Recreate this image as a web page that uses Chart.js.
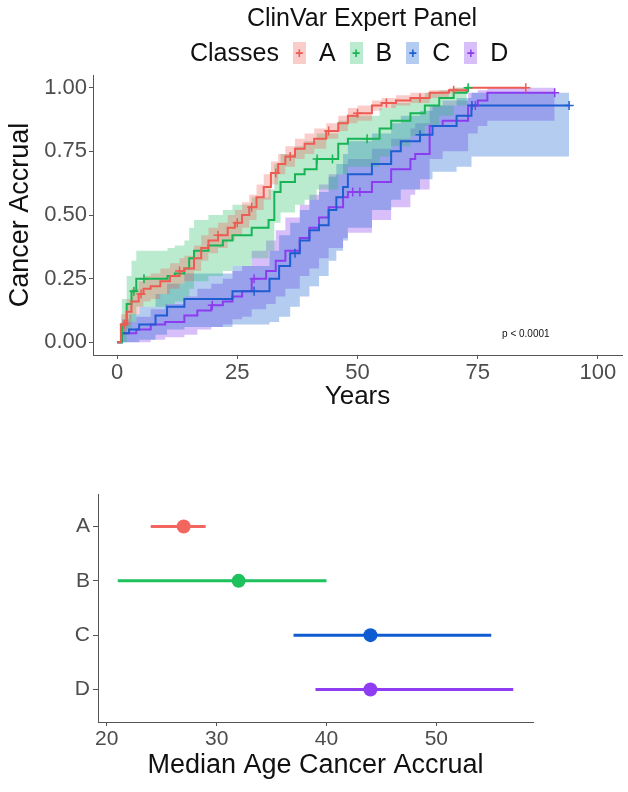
<!DOCTYPE html>
<html>
<head>
<meta charset="utf-8">
<script src="https://cdn.jsdelivr.net/npm/chart.js@4/dist/chart.umd.min.js"></script>
<style>
  body { margin: 0; background: #fff; font-family: "Liberation Sans", Arial, sans-serif; }
  #page { position: relative; width: 628px; height: 792px; overflow: hidden; }
  #title { position: absolute; top: 3px; left: 362px; transform: translateX(-50%); font-size: 25px; color: #111; white-space: nowrap; }
  #legend { position: absolute; top: 38px; left: 190px; display: flex; align-items: center; font-size: 25px; color: #111; white-space: nowrap; }
  #legend .key { width: 13px; height: 22px; display: inline-flex; align-items: center; justify-content: center; font-size: 14px; font-weight: bold; margin-left: 14px; margin-right: 13px; }
  #topWrap { position: absolute; left: 0; top: 0; width: 628px; height: 410px; }
  #bottomWrap { position: absolute; left: 0; top: 470px; width: 628px; height: 322px; }
</style>
</head>
<body>
<div id="page">
  <div id="topWrap"><canvas id="accrualChart" width="628" height="410"></canvas></div>
  <div id="title">ClinVar Expert Panel</div>
  <div id="legend"></div>
  <div id="bottomWrap"><canvas id="medianChart" width="628" height="322"></canvas></div>
</div>
<script>
// cumulative accrual curves: time in years, estimate and confidence limits
const timeA = [0, 0.8, 2, 3, 4.5, 5.5, 7, 9, 11, 13, 14, 16, 17.5, 19, 21, 23, 24.5, 26, 27.5, 29, 30.5, 32, 33.5, 35, 37, 39, 41, 43.5, 46, 48, 50, 53, 55, 58, 61, 65, 69, 73, 85];
const estA  = [0, 0.07, 0.12, 0.16, 0.19, 0.21, 0.22, 0.24, 0.26, 0.28, 0.29, 0.33, 0.37, 0.40, 0.42, 0.45, 0.47, 0.50, 0.53, 0.57, 0.61, 0.665, 0.70, 0.73, 0.76, 0.78, 0.80, 0.83, 0.86, 0.89, 0.90, 0.93, 0.94, 0.95, 0.96, 0.98, 0.99, 1.00, 1.00];
const loA   = [0, 0.03, 0.07, 0.11, 0.14, 0.16, 0.17, 0.19, 0.21, 0.23, 0.24, 0.28, 0.32, 0.35, 0.37, 0.40, 0.42, 0.45, 0.48, 0.52, 0.56, 0.62, 0.66, 0.69, 0.72, 0.74, 0.76, 0.80, 0.83, 0.86, 0.87, 0.91, 0.92, 0.93, 0.94, 0.96, 0.98, 1.00, 1.00];
const hiA   = [0, 0.11, 0.17, 0.21, 0.24, 0.26, 0.27, 0.29, 0.31, 0.33, 0.34, 0.38, 0.42, 0.45, 0.47, 0.50, 0.52, 0.55, 0.58, 0.62, 0.66, 0.71, 0.74, 0.77, 0.80, 0.82, 0.84, 0.86, 0.89, 0.92, 0.93, 0.95, 0.96, 0.97, 0.98, 0.99, 1.00, 1.00, 1.00];
const censA = [1.5, 5, 13, 21, 25, 28, 33, 36, 44, 50, 56, 63, 70, 85];

const timeB = [0, 1, 2, 3, 4, 10.5, 12, 14, 15, 16, 19, 22, 24, 28, 31.5, 32.7, 34, 37, 39, 41.5, 46, 48, 54.6, 57, 61, 64, 67, 70, 72.7, 73];
const estB  = [0, 0.07, 0.15, 0.20, 0.25, 0.26, 0.27, 0.29, 0.33, 0.36, 0.38, 0.40, 0.42, 0.45, 0.48, 0.59, 0.63, 0.66, 0.68, 0.72, 0.78, 0.80, 0.84, 0.87, 0.90, 0.93, 0.96, 0.98, 1.00, 1.00];
const loB   = [0, 0.00, 0.05, 0.08, 0.14, 0.15, 0.16, 0.18, 0.21, 0.24, 0.26, 0.28, 0.30, 0.33, 0.36, 0.47, 0.51, 0.54, 0.56, 0.60, 0.66, 0.69, 0.73, 0.77, 0.81, 0.85, 0.89, 0.93, 1.00, 1.00];
const hiB   = [0, 0.17, 0.26, 0.32, 0.36, 0.37, 0.38, 0.40, 0.45, 0.48, 0.50, 0.52, 0.54, 0.57, 0.60, 0.70, 0.74, 0.77, 0.79, 0.82, 0.87, 0.89, 0.92, 0.94, 0.96, 0.98, 0.99, 1.00, 1.00, 1.00];
const censB = [3.5, 5.6, 41.6, 44.8, 52, 73];

const timeC = [0, 1, 2.5, 4.6, 8, 10.4, 14, 24, 31.7, 33.7, 36, 38, 40, 42, 44, 45.6, 47, 48, 53, 57, 59, 63, 65.6, 70.6, 73.7, 94];
const estC  = [0, 0.035, 0.05, 0.07, 0.105, 0.14, 0.17, 0.20, 0.25, 0.30, 0.35, 0.40, 0.44, 0.46, 0.52, 0.57, 0.61, 0.66, 0.70, 0.75, 0.79, 0.815, 0.85, 0.89, 0.93, 0.93];
const loC   = [0, 0, 0, 0.01, 0.03, 0.05, 0.06, 0.07, 0.08, 0.10, 0.14, 0.18, 0.22, 0.26, 0.32, 0.36, 0.40, 0.45, 0.52, 0.56, 0.60, 0.64, 0.67, 0.69, 0.73, 0.73];
const hiC   = [0, 0.09, 0.11, 0.14, 0.19, 0.23, 0.27, 0.30, 0.36, 0.42, 0.47, 0.52, 0.56, 0.59, 0.65, 0.70, 0.74, 0.79, 0.82, 0.86, 0.89, 0.91, 0.93, 0.96, 0.98, 0.98];
const censC = [28.5, 37, 63, 73.8, 94];

const timeD = [0, 1, 4, 7, 10, 14, 16.7, 19.6, 22, 24, 26, 28, 31, 33, 35, 38, 40, 42, 44, 47, 48, 53, 57, 61, 62, 65, 67.7, 73, 75, 77, 91];
const estD  = [0, 0.035, 0.05, 0.07, 0.08, 0.105, 0.125, 0.145, 0.16, 0.18, 0.20, 0.25, 0.28, 0.32, 0.36, 0.41, 0.45, 0.49, 0.53, 0.57, 0.59, 0.63, 0.68, 0.72, 0.74, 0.85, 0.87, 0.93, 0.95, 0.98, 0.98];
const loD   = [0, 0, 0, 0.01, 0.02, 0.03, 0.05, 0.06, 0.07, 0.09, 0.10, 0.13, 0.15, 0.18, 0.21, 0.26, 0.29, 0.33, 0.37, 0.41, 0.43, 0.48, 0.53, 0.58, 0.60, 0.72, 0.75, 0.82, 0.85, 0.87, 0.87];
const hiD   = [0, 0.08, 0.10, 0.13, 0.15, 0.18, 0.21, 0.23, 0.25, 0.28, 0.30, 0.36, 0.40, 0.44, 0.49, 0.54, 0.58, 0.62, 0.66, 0.70, 0.72, 0.76, 0.80, 0.84, 0.86, 0.93, 0.95, 0.98, 0.99, 1.00, 1.00];
const censD = [19.8, 28.5, 49, 50.5, 74.5, 91];

const yearTicks = [0, 25, 50, 75, 100];
const accrualTicks = [0, 0.25, 0.5, 0.75, 1];

// median age of accrual per class with interval
const classNames = ['A', 'B', 'C', 'D'];
const medianAge = [27, 32, 44, 44];
const ageLow = [24, 21, 37, 39];
const ageHigh = [29, 40, 55, 57];
const ageTicks = [20, 30, 40, 50];

const lineColors = ['#EE5B52', '#17B455', '#1F5ED0', '#8C3CEF'];
const bandColors = ['rgba(240,90,82,0.30)', 'rgba(30,190,95,0.30)', 'rgba(25,100,210,0.33)', 'rgba(140,60,240,0.33)'];
const dotColors = ['#F2665F', '#1EC15C', '#0F5BD1', '#8F3DF2'];

const tickGray = '#4D4D4D';
const axisGray = '#555';
const fontFamily = '"Liberation Sans", Arial, sans-serif';

Chart.defaults.font.family = fontFamily;

function toPoints(t, v) {
   return t.map((x, i) => ({ x: x, y: v[i] }));
}

// value of a step curve at a given time
function stepValue(t, v, at) {
   let y = v[0];
   for (let i = 0; i < t.length; i++) {
      if (t[i] <= at) y = v[i];
   }
   return y;
}

const groups = [
   { time: timeA, est: estA, lo: loA, hi: hiA, cens: censA },
   { time: timeB, est: estB, lo: loB, hi: hiB, cens: censB },
   { time: timeC, est: estC, lo: loC, hi: hiC, cens: censC },
   { time: timeD, est: estD, lo: loD, hi: hiD, cens: censD }
];

// legend row
const legend = document.getElementById('legend');
legend.innerHTML = '<span>Classes</span>' + classNames.map((name, i) =>
   `<span class="key" style="background:${bandColors[i]};color:${lineColors[i]}">+</span><span>${name}</span>`
).join('');

const accrualSets = [];
groups.forEach((g, i) => {
   accrualSets.push({
      data: toPoints(g.time, g.lo), stepped: true, borderColor: 'rgba(0,0,0,0)', borderWidth: 0,
      pointRadius: 0, fill: false, order: 2
   });
   accrualSets.push({
      data: toPoints(g.time, g.hi), stepped: true, borderColor: 'rgba(0,0,0,0)', borderWidth: 0,
      pointRadius: 0, fill: '-1', backgroundColor: bandColors[i], order: 2
   });
   accrualSets.push({
      data: toPoints(g.time, g.est), stepped: true, borderColor: lineColors[i], borderWidth: 2,
      pointRadius: 0, fill: false, order: 1
   });
   accrualSets.push({
      data: g.cens.map(t => ({ x: t, y: stepValue(g.time, g.est, t) })), showLine: false,
      pointStyle: 'cross', pointRadius: 4.5, borderColor: lineColors[i], borderWidth: 1.5, order: 0
   });
});

const pValueLabel = {
   id: 'pValueLabel',
   afterDatasetsDraw(chart) {
      const ctx = chart.ctx;
      ctx.save();
      ctx.font = '10px ' + fontFamily;
      ctx.fillStyle = '#111';
      ctx.textAlign = 'center';
      ctx.textBaseline = 'middle';
      ctx.fillText('p < 0.0001', chart.scales.x.getPixelForValue(85), chart.scales.y.getPixelForValue(0.03));
      ctx.restore();
   }
};

new Chart(document.getElementById('accrualChart'), {
   type: 'line',
   data: { datasets: accrualSets },
   options: {
      responsive: false,
      animation: false,
      layout: { padding: { top: 75, right: 6, left: 0, bottom: 0 } },
      plugins: {
         legend: { display: false },
         tooltip: { enabled: false },
         filler: { drawTime: 'beforeDatasetsDraw' }
      },
      scales: {
         x: {
            type: 'linear', min: -5, max: 105,
            afterBuildTicks: s => { s.ticks = yearTicks.map(v => ({ value: v })); },
            afterFit: s => { s.height = 55; },
            grid: { display: true, drawOnChartArea: false, drawTicks: true, tickLength: 4, color: axisGray },
            border: { display: true, color: axisGray, width: 1 },
            ticks: { color: tickGray, font: { size: 22 }, padding: 1, maxRotation: 0 },
            title: { display: true, text: 'Years', color: '#111', font: { size: 26, lineHeight: 1 }, padding: 0 }
         },
         y: {
            type: 'linear', min: -0.05, max: 1.05,
            afterBuildTicks: s => { s.ticks = accrualTicks.map(v => ({ value: v })); },
            afterFit: s => { s.width = 93; },
            grid: { display: true, drawOnChartArea: false, drawTicks: true, tickLength: 4, color: axisGray },
            border: { display: true, color: axisGray, width: 1 },
            ticks: { color: tickGray, font: { size: 22 }, padding: 2, callback: v => v.toFixed(2) },
            title: { display: true, text: 'Cancer Accrual', color: '#111', font: { size: 27, lineHeight: 1 }, padding: { top: 7 } }
         }
      }
   },
   plugins: [pValueLabel]
});

// interval segments and median dots
const medianSets = [];
classNames.forEach((name, i) => {
   medianSets.push({
      data: [{ x: ageLow[i], y: i + 1 }, { x: ageHigh[i], y: i + 1 }], showLine: true,
      borderColor: dotColors[i], borderWidth: 3, pointRadius: 0, order: 1
   });
   medianSets.push({
      data: [{ x: medianAge[i], y: i + 1 }], showLine: false,
      pointRadius: 7, backgroundColor: dotColors[i], borderWidth: 0, order: 0
   });
});

new Chart(document.getElementById('medianChart'), {
   type: 'scatter',
   data: { datasets: medianSets },
   options: {
      responsive: false,
      animation: false,
      layout: { padding: { top: 24, right: 95, left: 0, bottom: 0 } },
      plugins: { legend: { display: false }, tooltip: { enabled: false } },
      scales: {
         x: {
            type: 'linear', min: 19.2, max: 58.8,
            afterBuildTicks: s => { s.ticks = ageTicks.map(v => ({ value: v })); },
            afterFit: s => { s.height = 70; },
            grid: { display: true, drawOnChartArea: false, drawTicks: true, tickLength: 4, color: axisGray },
            border: { display: true, color: axisGray, width: 1 },
            ticks: { color: tickGray, font: { size: 21 }, padding: 1, maxRotation: 0 },
            title: { display: true, text: 'Median Age Cancer Accrual', color: '#111', font: { size: 27, lineHeight: 1 }, padding: { bottom: 13 } }
         },
         y: {
            type: 'linear', min: 0.4, max: 4.6, reverse: true,
            afterBuildTicks: s => { s.ticks = classNames.map((c, i) => ({ value: i + 1 })); },
            afterFit: s => { s.width = 98; },
            grid: { display: true, drawOnChartArea: false, drawTicks: true, tickLength: 5, color: axisGray },
            border: { display: true, color: axisGray, width: 1 },
            ticks: { color: tickGray, font: { size: 21 }, padding: 3, callback: v => classNames[v - 1] }
         }
      }
   }
});
</script>
</body>
</html>
